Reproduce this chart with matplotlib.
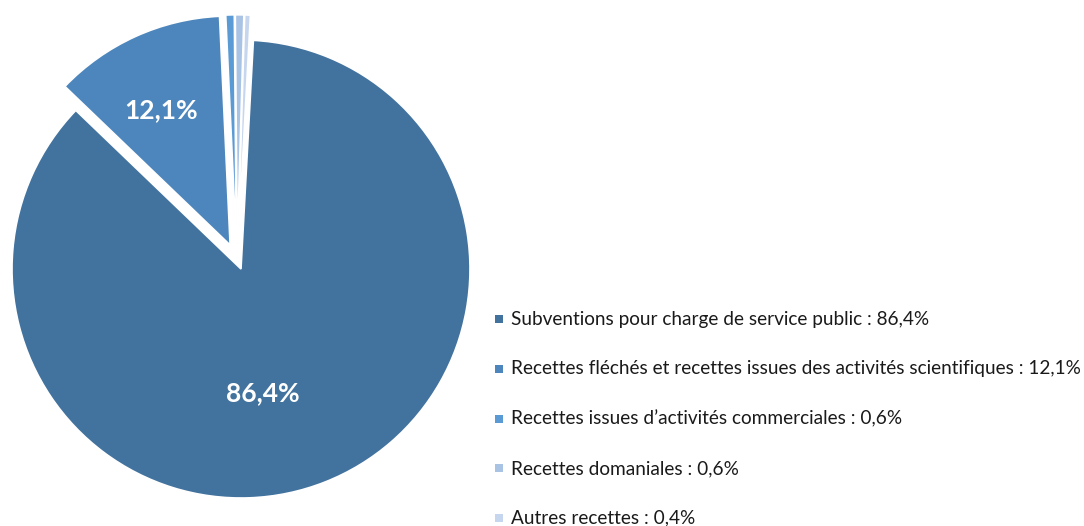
import matplotlib
matplotlib.use("Agg")
import matplotlib.pyplot as plt
from matplotlib.patches import Rectangle

categories = [
    "Subventions pour charge de service public",
    "Recettes fléchés et recettes issues des activités scientifiques",
    "Recettes issues d\u2019activités commerciales",
    "Recettes domaniales",
    "Autres recettes",
]
values = [86.4, 12.1, 0.6, 0.6, 0.4]
value_labels = ["86,4%", "12,1%", "0,6%", "0,6%", "0,4%"]
colors = ["#42729E", "#4D86BC", "#5B9BD5", "#A9C3E5", "#C6D6EE"]
explode = [0.0, 0.115, 0.11, 0.11, 0.11]

plt.rcParams['font.family'] = ['Lato', 'DejaVu Sans']

W, H = 1084, 526
fig = plt.figure(figsize=(W / 100, H / 100), dpi=100)
ax = fig.add_axes([0, 0, 1, 1])

cx, cy, r = 241, H - 269, 229
wedges, texts = ax.pie(
    values, colors=colors, explode=[e * r for e in explode],
    startangle=86.9, counterclock=False,
    center=(cx, cy), radius=r, frame=True,
    wedgeprops=dict(edgecolor="white", linewidth=1.2),
)
# small exploded slices sit slightly left of the vertical, as in the original
for w in wedges[2:]:
    x0, y0 = w.center
    w.set_center((x0 - 4, y0))

ax.set_xlim(0, W)
ax.set_ylim(0, H)
ax.axis("off")

# data labels on the two large slices
label_pos = {0: (263, H - 393), 1: (161, H - 110)}
for i, (x, y) in label_pos.items():
    ax.text(x, y, value_labels[i], color="white", fontsize=19, fontweight="bold",
            ha="center", va="center")

# legend
for i, (cat, lab) in enumerate(zip(categories, value_labels)):
    y = H - (319 + 49.8 * i)
    ax.add_patch(Rectangle((495, y - 4), 8, 8, facecolor=colors[i], edgecolor="none"))
    ax.text(511, y, f"{cat} : {lab}", fontsize=13.7, color="#1a1a1a",
            ha="left", va="center")

fig.savefig("out.png", dpi=100)
